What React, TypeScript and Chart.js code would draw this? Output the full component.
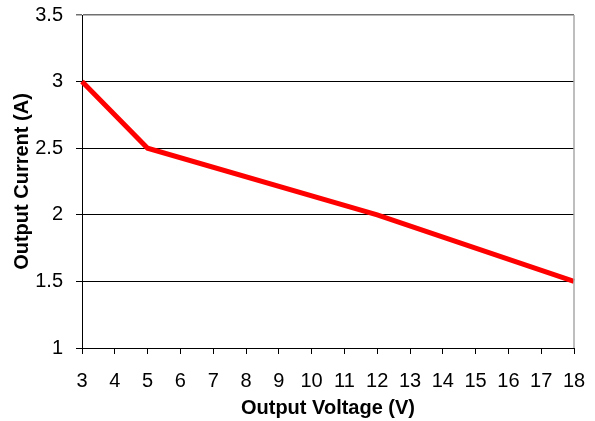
import React, { useEffect, useRef } from "react";
import { Chart, registerables } from "chart.js";

Chart.register(...registerables);

const voltages = [3, 5, 12, 18];
const currents = [3, 2.5, 2, 1.5];
const xTitle = "Output Voltage (V)";
const yTitle = "Output Current (A)";

const FONT = "'Liberation Sans', Arial, sans-serif";

const framePlugin = {
  id: "frame",
  afterDraw(chart: any) {
    const { ctx, chartArea } = chart;
    ctx.save();
    ctx.strokeStyle = "#a8a8a8";
    ctx.lineWidth = 1.5;
    ctx.beginPath();
    ctx.moveTo(chartArea.right, chartArea.top);
    ctx.lineTo(chartArea.right, chartArea.bottom);
    ctx.stroke();
    ctx.restore();
  },
};

export default function App() {
  const ref = useRef<HTMLCanvasElement>(null);
  useEffect(() => {
    document.body.style.margin = "0";
    const chart = new Chart(ref.current!, {
      type: "line",
      data: {
        datasets: [
          {
            data: voltages.map((v, i) => ({ x: v, y: currents[i] })),
            borderColor: "#ff0000",
            borderWidth: 5,
            pointRadius: 0,
            tension: 0,
            fill: false,
            clip: 4,
          },
        ],
      },
      options: {
        animation: false,
        responsive: false,
        layout: { padding: { top: 15, right: 21, left: 0, bottom: 0 } },
        plugins: { legend: { display: false }, tooltip: { enabled: false } },
        scales: {
          x: {
            type: "linear",
            min: 3,
            max: 18,
            afterFit: (s: any) => {
              s.height = 73;
              s.paddingLeft = 0;
              s.paddingRight = 0;
            },
            ticks: {
              stepSize: 1,
              color: "#000",
              font: { family: FONT, size: 20 },
              padding: 15,
              maxRotation: 0,
              autoSkip: false,
            },
            grid: {
              drawOnChartArea: false,
              drawTicks: true,
              tickLength: 6,
              color: "#000",
            },
            border: { color: "#000", width: 1 },
            title: {
              display: true,
              text: xTitle,
              color: "#000",
              font: { family: FONT, size: 20, weight: "bold" },
              padding: { top: 2, bottom: 1 },
            },
          },
          y: {
            min: 1,
            max: 3.5,
            afterFit: (s: any) => {
              s.width = 82;
              s.paddingTop = 0;
              s.paddingBottom = 0;
            },
            ticks: {
              stepSize: 0.5,
              color: "#000",
              font: { family: FONT, size: 20 },
              padding: 13,
              callback: (v: any) => String(v),
            },
            grid: {
              drawTicks: true,
              tickLength: 6,
              color: (c: any) => (c.tick && c.tick.value === 3.5 ? "#707070" : "#000"),
              lineWidth: (c: any) => (c.tick && c.tick.value === 3.5 ? 1.5 : 1),
            },
            border: { color: "#000", width: 1 },
            title: {
              display: true,
              text: yTitle,
              color: "#000",
              font: { family: FONT, size: 20, weight: "bold" },
              padding: { top: 10, bottom: 0 },
            },
          },
        },
      },
      plugins: [framePlugin],
    });
    return () => chart.destroy();
  }, []);
  return (
    <div style={{ position: "absolute", left: 0, top: 0, width: 595, height: 421 }}>
      <canvas ref={ref} width={595} height={421} style={{ width: 595, height: 421 }} />
    </div>
  );
}
